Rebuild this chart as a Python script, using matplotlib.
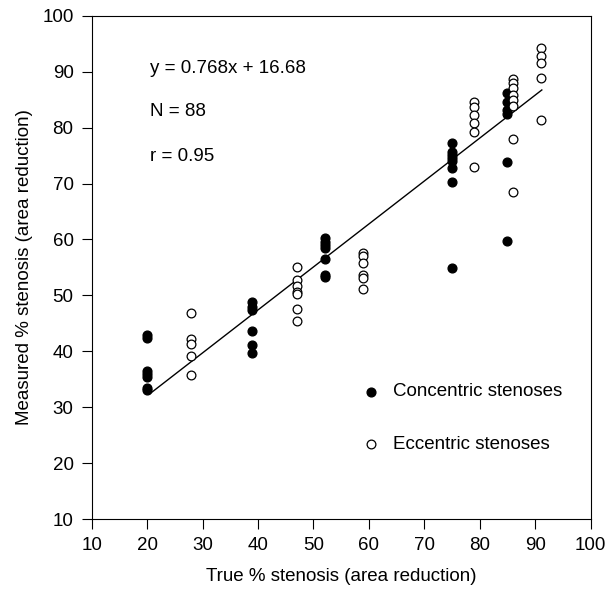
import numpy as np
import matplotlib.pyplot as plt

plt.rcParams['font.family'] = ['Liberation Sans', 'DejaVu Sans']

# concentric stenoses (filled)
conc_x = [20, 20, 20, 20, 20, 20, 20,
          39, 39, 39, 39, 39, 39,
          52, 52, 52, 52, 52, 52, 52,
          75, 75, 75, 75, 75, 75, 75, 75,
          85, 85, 85, 85, 85, 85]
conc_y = [42.9, 42.3, 36.5, 35.9, 35.5, 33.5, 33.1,
          48.9, 48.0, 47.4, 43.6, 41.1, 39.7,
          60.2, 59.6, 59.0, 58.4, 56.5, 53.7, 53.3,
          77.3, 75.7, 75.1, 74.5, 74.0, 72.7, 70.2, 54.9,
          86.2, 84.6, 83.1, 82.5, 73.9, 59.7]

# eccentric stenoses (open)
ecc_x = [28, 28, 28, 28, 28,
         47, 47, 47, 47, 47, 47, 47,
         59, 59, 59, 59, 59, 59,
         79, 79, 79, 79, 79, 79,
         86, 86, 86, 86, 86, 86, 86, 86,
         91, 91, 91, 91, 91]
ecc_y = [46.9, 42.2, 41.4, 39.2, 35.8,
         55.0, 52.8, 51.6, 50.6, 50.2, 47.6, 45.4,
         57.6, 57.0, 55.8, 53.6, 53.2, 51.2,
         84.6, 83.6, 82.2, 80.8, 79.2, 72.9,
         88.6, 87.9, 87.0, 85.8, 84.9, 83.9, 78.0, 68.4,
         94.2, 92.8, 91.6, 88.8, 81.4]

slope, intercept = 0.768, 16.68
fit_x = np.array([20.4, 91.2])

fs = 13.5

fig = plt.figure(figsize=(6.07, 6.03), dpi=100)
ax = fig.add_axes([0.151, 0.139, 0.822, 0.835])

ax.plot(fit_x, slope * fit_x + intercept, color='black', lw=1.0)
ax.plot(conc_x, conc_y, 'o', ms=6.3, color='black', mec='black')
ax.plot(ecc_x, ecc_y, 'o', ms=6.3, mfc='white', mec='black', mew=0.9)

# legend drawn by hand like the original
ax.plot([60.3], [32.8], 'o', ms=6.3, color='black')
ax.plot([60.3], [23.4], 'o', ms=6.3, mfc='white', mec='black', mew=0.9)
ax.text(64.3, 32.8, 'Concentric stenoses', fontsize=fs, va='center')
ax.text(64.3, 23.4, 'Eccentric stenoses', fontsize=fs, va='center')

ax.text(20.5, 90.5, 'y = 0.768x + 16.68', fontsize=fs, va='center')
ax.text(20.5, 82.8, 'N = 88', fontsize=fs, va='center')
ax.text(20.5, 74.8, 'r = 0.95', fontsize=fs, va='center')

ax.set_xlim(10, 100)
ax.set_ylim(10, 100)
ax.set_xticks(np.arange(10, 101, 10))
ax.set_yticks(np.arange(10, 101, 10))
ax.tick_params(direction='out', length=7, width=0.8, labelsize=fs, pad=6)
for s in ax.spines.values():
    s.set_linewidth(0.8)

ax.set_xlabel('True % stenosis (area reduction)', fontsize=fs, labelpad=10)
ax.set_ylabel('Measured % stenosis (area reduction)', fontsize=fs, labelpad=7)

fig.savefig('out.png', dpi=100)
